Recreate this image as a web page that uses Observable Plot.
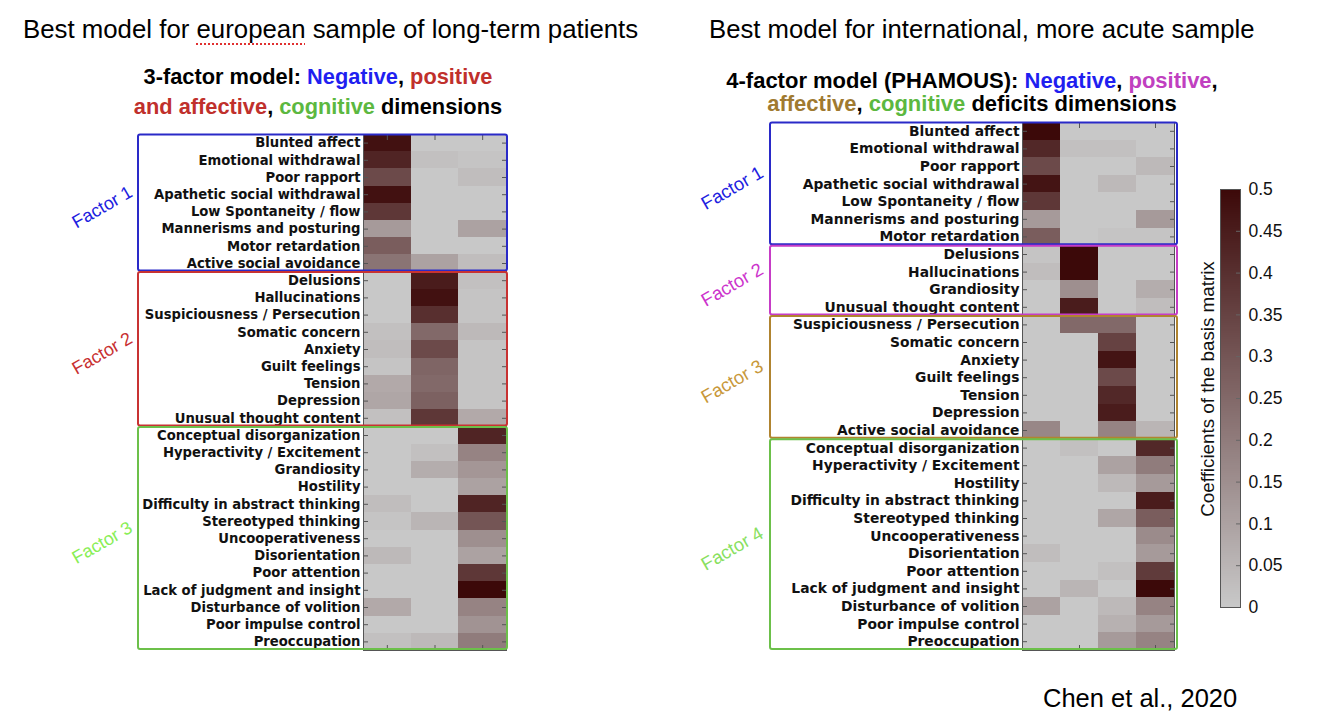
<!DOCTYPE html>
<html><head><meta charset="utf-8">
<script src="https://cdn.jsdelivr.net/npm/d3@7"></script>
<script src="https://cdn.jsdelivr.net/npm/@observablehq/plot@0.6"></script>
<style>
body{margin:0;background:#fff;}
#fig{position:relative;width:1334px;height:718px;overflow:hidden;font-family:"Liberation Sans",Arial,sans-serif;background:#fff;}
.t{position:absolute;white-space:nowrap;color:#000;z-index:5;}
.sub{font-weight:bold;text-align:center;}
.layer{position:absolute;left:0;top:0;}
.layer svg{overflow:visible;}
</style></head><body>
<div id="fig">
  <div class="t" style="left:23px;top:15px;font-size:25.8px;">Best model for <span style="text-decoration:underline dotted #e03030;text-decoration-thickness:2px;text-underline-offset:5px;">european</span> sample of long-term patients</div>
  <div class="t" style="left:709px;top:15px;font-size:25.7px;">Best model for international, more acute sample</div>
  <div class="t sub" style="left:118px;width:400px;top:62px;font-size:21.8px;line-height:30px;">3-factor model: <span style="color:#1f1ff0">Negative</span>, <span style="color:#c0302c">positive</span><br><span style="color:#c0302c">and affective</span>, <span style="color:#5cb840">cognitive</span> dimensions</div>
  <div class="t sub" style="left:722px;width:500px;top:69px;font-size:22px;line-height:23px;">4-factor model (PHAMOUS): <span style="color:#1f1ff0">Negative</span>, <span style="color:#c040c0">positive</span>,<br><span style="color:#a07a30">affective</span>, <span style="color:#5cb840">cognitive</span> deficits dimensions</div>
  <div class="t" style="left:1043px;top:684px;font-size:25.5px;">Chen et al., 2020</div>
  <div id="pA" class="layer"></div>
  <div id="pB" class="layer"></div>
  <div id="pC" class="layer"></div>
</div>
<script>
// ---------- data: european 3-factor model ----------
const colsA = ["F1", "F2", "F3"];
const labelsA = [
  "Blunted affect", "Emotional withdrawal", "Poor rapport", "Apathetic social withdrawal",
  "Low Spontaneity / flow", "Mannerisms and posturing", "Motor retardation", "Active social avoidance",
  "Delusions", "Hallucinations", "Suspiciousness / Persecution", "Somatic concern", "Anxiety",
  "Guilt feelings", "Tension", "Depression", "Unusual thought content",
  "Conceptual disorganization", "Hyperactivity / Excitement", "Grandiosity", "Hostility",
  "Difficulty in abstract thinking", "Stereotyped thinking", "Uncooperativeness", "Disorientation",
  "Poor attention", "Lack of judgment and insight", "Disturbance of volition", "Poor impulse control",
  "Preoccupation"
];
const f1A = [0.48, 0.43, 0.33, 0.48, 0.38, 0.12, 0.28, 0.22,
             0.00, 0.00, 0.00, 0.02, 0.03, 0.01, 0.08, 0.09, 0.02,
             0.00, 0.00, 0.00, 0.00, 0.03, 0.01, 0.00, 0.04, 0.00, 0.00, 0.08, 0.00, 0.02];
const f2A = [0.00, 0.02, 0.00, 0.00, 0.00, 0.00, 0.00, 0.10,
             0.45, 0.48, 0.40, 0.25, 0.33, 0.26, 0.25, 0.27, 0.38,
             0.00, 0.02, 0.07, 0.00, 0.00, 0.05, 0.00, 0.00, 0.00, 0.00, 0.00, 0.00, 0.04];
const f3A = [0.00, 0.01, 0.03, 0.00, 0.00, 0.10, 0.00, 0.03,
             0.02, 0.01, 0.01, 0.04, 0.01, 0.01, 0.01, 0.01, 0.08,
             0.43, 0.18, 0.13, 0.10, 0.43, 0.30, 0.15, 0.10, 0.38, 0.50, 0.18, 0.14, 0.20];
const factorSizesA = [8, 9, 13];
const factorNamesA = ["Factor 1", "Factor 2", "Factor 3"];

// ---------- data: international 4-factor model (PHAMOUS) ----------
const colsB = ["F1", "F2", "F3", "F4"];
const labelsB = [
  "Blunted affect", "Emotional withdrawal", "Poor rapport", "Apathetic social withdrawal",
  "Low Spontaneity / flow", "Mannerisms and posturing", "Motor retardation",
  "Delusions", "Hallucinations", "Grandiosity", "Unusual thought content",
  "Suspiciousness / Persecution", "Somatic concern", "Anxiety", "Guilt feelings", "Tension",
  "Depression", "Active social avoidance",
  "Conceptual disorganization", "Hyperactivity / Excitement", "Hostility",
  "Difficulty in abstract thinking", "Stereotyped thinking", "Uncooperativeness", "Disorientation",
  "Poor attention", "Lack of judgment and insight", "Disturbance of volition", "Poor impulse control",
  "Preoccupation"
];
const f1B = [0.50, 0.42, 0.33, 0.47, 0.38, 0.12, 0.28,
             0.01, 0.03, 0.00, 0.00,
             0.00, 0.00, 0.00, 0.00, 0.00, 0.00, 0.17,
             0.00, 0.00, 0.00, 0.00, 0.00, 0.00, 0.03, 0.00, 0.00, 0.10, 0.00, 0.00];
const f2B = [0.00, 0.02, 0.00, 0.00, 0.00, 0.00, 0.00,
             0.50, 0.50, 0.15, 0.45,
             0.25, 0.00, 0.00, 0.00, 0.00, 0.00, 0.00,
             0.02, 0.00, 0.00, 0.00, 0.00, 0.00, 0.00, 0.00, 0.05, 0.00, 0.00, 0.00];
const f3B = [0.00, 0.02, 0.00, 0.04, 0.00, 0.00, 0.01,
             0.00, 0.00, 0.00, 0.00,
             0.25, 0.35, 0.47, 0.33, 0.42, 0.45, 0.18,
             0.00, 0.10, 0.04, 0.00, 0.09, 0.00, 0.00, 0.02, 0.00, 0.04, 0.06, 0.12];
const f4B = [0.00, 0.00, 0.04, 0.00, 0.00, 0.12, 0.01,
             0.00, 0.00, 0.07, 0.03,
             0.00, 0.00, 0.00, 0.00, 0.00, 0.00, 0.05,
             0.42, 0.20, 0.12, 0.45, 0.28, 0.16, 0.12, 0.37, 0.50, 0.18, 0.12, 0.18];
const factorSizesB = [7, 4, 7, 12];
const factorNamesB = ["Factor 1", "Factor 2", "Factor 3", "Factor 4"];

// ---------- colorbar ----------
const cbTicks = [0, 0.05, 0.1, 0.15, 0.2, 0.25, 0.3, 0.35, 0.4, 0.45, 0.5];
const cbTitle = "Coefficients of the basis matrix";

// ---------- styles ----------
const colorScale = {type: "linear", domain: [0, 0.5], range: ["#c8c8c8", "#3c0909"], interpolate: "rgb", clamp: true};
const boxColorsA = ["#2a2ac8", "#c83232", "#6cc04a"];
const textColorsA = ["#2020e0", "#c83030", "#88ee55"];
const boxColorsB = ["#2a2ac8", "#c63cc6", "#b08430", "#6cc04a"];
const textColorsB = ["#2020e0", "#cc33cc", "#c8983a", "#88e060"];

function table(labels, cols, series) {
  return labels.flatMap((r, i) => series.map((s, j) => ({row: r, col: cols[j], value: s[i]})));
}

function heatmap({labels, cols, series, left, right, top, bottom, fontSize, xTicks}) {
  return Plot.plot({
    width: right + 20, height: 680,
    marginLeft: left, marginRight: 20, marginTop: top, marginBottom: 680 - bottom,
    style: {background: "transparent", fontFamily: "DejaVu Sans", fontWeight: "bold", fontSize: fontSize + "px", color: "#111", overflow: "visible"},
    x: {type: "band", domain: cols, padding: 0, round: false, axis: null},
    y: {type: "band", domain: labels, padding: 0, round: false, axis: null},
    color: colorScale,
    marks: [
      Plot.cell(table(labels, cols, series), {x: "col", y: "row", fill: "value", inset: 0, shapeRendering: "crispEdges"}),
      Plot.axisY({anchor: "left", tickSize: 0, tickPadding: 3, label: null, fontWeight: "bold", fontSize}),
      Plot.axisY({anchor: "left", tickSize: -5, tickFormat: () => "", label: null, stroke: "#555"}),
      Plot.axisY({anchor: "right", tickSize: -5, tickFormat: () => "", label: null, stroke: "#555"}),
      Plot.axisX({anchor: "top", ticks: xTicks, tickSize: -5, tickFormat: () => "", label: null, stroke: "#555"}),
      Plot.axisX({anchor: "bottom", ticks: xTicks, tickSize: -5, tickFormat: () => "", label: null, stroke: "#555"}),
      Plot.frame({stroke: "#555", strokeWidth: 1})
    ]
  });
}

function decorate(plot, labels, sizes, names, boxColors, textColors, boxX1, boxX2, labelX, labelSize) {
  const ys = plot.scale("y");
  const bw = ys.bandwidth;
  const svg = d3.select(plot);
  let start = 0;
  sizes.forEach((n, k) => {
    const y1 = ys.apply(labels[start]);
    const y2 = ys.apply(labels[start + n - 1]) + bw;
    svg.append("rect")
      .attr("x", boxX1).attr("y", y1 + 0.5)
      .attr("width", boxX2 - boxX1).attr("height", y2 - y1 - 1.5)
      .attr("rx", 2)
      .attr("fill", "none").attr("stroke", boxColors[k]).attr("stroke-width", 2);
    const yc = (y1 + y2) / 2 + 4;
    svg.append("text")
      .attr("transform", `translate(${labelX},${yc}) rotate(-30)`)
      .attr("text-anchor", "middle").attr("dy", "0.35em")
      .style("font-family", "'Liberation Sans', Arial, sans-serif")
      .style("font-weight", "normal").style("font-size", labelSize + "px")
      .attr("fill", textColors[k])
      .text(names[k]);
    start += n;
  });
}

const plotA = heatmap({labels: labelsA, cols: colsA, series: [f1A, f2A, f3A], left: 363, right: 506, top: 134, bottom: 650, fontSize: 13.2, xTicks: colsA});
document.getElementById("pA").append(plotA);
decorate(plotA, labelsA, factorSizesA, factorNamesA, boxColorsA, textColorsA, 138, 507, 102, 18);

const plotB = heatmap({labels: labelsB, cols: colsB, series: [f1B, f2B, f3B, f4B], left: 1022, right: 1174, top: 122, bottom: 650, fontSize: 13.85, xTicks: ["F2", "F4"]});
document.getElementById("pB").append(plotB);
decorate(plotB, labelsB, factorSizesB, factorNamesB, boxColorsB, textColorsB, 770, 1177, 732, 18.5);

// colorbar
const cbSteps = d3.range(0, 0.5, 0.0025);
const plotC = Plot.plot({
  width: 1334, height: 680,
  marginLeft: 1220, marginRight: 94, marginTop: 189, marginBottom: 73,
  style: {background: "transparent", fontFamily: "'Liberation Sans', Arial, sans-serif", fontSize: "17px", color: "#111", overflow: "visible"},
  x: {domain: [0, 1], axis: null},
  y: {domain: [0, 0.5], axis: null},
  color: colorScale,
  marks: [
    Plot.rect(cbSteps, {x1: 0, x2: 1, y1: d => d, y2: d => d + 0.0027, fill: d => d + 0.00125, shapeRendering: "crispEdges"}),
    Plot.ruleY(cbTicks.slice(1, -1), {y: d => d, x1: 0.8, x2: 1, stroke: "#666"}),
    Plot.frame({stroke: "#555"}),
    Plot.axisY(cbTicks, {anchor: "right", tickSize: 0, tickPadding: 8, label: null, fontSize: 17.5, tickFormat: d => String(+d.toFixed(2))})
  ]
});
document.getElementById("pC").append(plotC);
d3.select(plotC).append("text")
  .attr("transform", `translate(1207,389) rotate(-90)`)
  .attr("text-anchor", "middle").attr("dy", "0.35em")
  .style("font-size", "18.8px").attr("fill", "#111")
  .text(cbTitle);
</script>
</body></html>
